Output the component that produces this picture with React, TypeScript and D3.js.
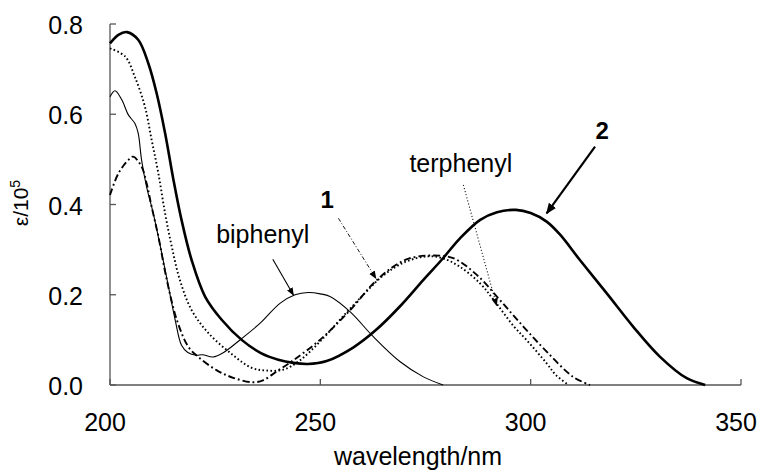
import React from "react";
import * as d3 from "d3";

// ---- data (wavelength nm, epsilon / 1e5) ----
const wl2 = [200, 202, 204, 206.7, 209.1, 211.1, 213.1, 215.1, 217.0, 219.4, 222.6, 226.6, 231.3, 236, 240, 243.6, 247, 251.5, 257.8, 263, 268.9, 274.5, 278.8, 283.2, 288, 292, 296.5, 300, 303.8, 307, 311.7, 318.1, 324.4, 330.7, 337.1, 341.5];
const eps2 = [0.757, 0.776, 0.782, 0.765, 0.713, 0.646, 0.558, 0.454, 0.366, 0.277, 0.196, 0.144, 0.100, 0.070, 0.056, 0.049, 0.0465, 0.053, 0.083, 0.12, 0.174, 0.233, 0.277, 0.325, 0.366, 0.383, 0.388, 0.381, 0.362, 0.333, 0.277, 0.203, 0.129, 0.063, 0.015, 0];

const wlBi = [200, 201.2, 202.8, 204.4, 205.9, 206.7, 207.5, 208.7, 210.3, 212.3, 213.9, 215.5, 217.0, 218.5, 220.5, 222, 224.5, 227, 231.3, 235.7, 240.4, 244, 247.1, 250, 252.3, 257.1, 262.6, 268.9, 274.5, 279.2];
const epsBi = [0.639, 0.652, 0.632, 0.598, 0.580, 0.558, 0.499, 0.439, 0.380, 0.292, 0.218, 0.144, 0.088, 0.072, 0.066, 0.067, 0.062, 0.072, 0.103, 0.137, 0.181, 0.200, 0.205, 0.202, 0.196, 0.162, 0.107, 0.052, 0.018, 0];

const wlTer = [200, 203.6, 205.9, 208.3, 209.9, 211.5, 213.1, 214.7, 216.6, 219.4, 223.4, 229, 233.7, 237.2, 241.2, 245.2, 250, 255, 260, 265, 270, 275.3, 279, 283.2, 288, 291.1, 296, 299, 303.8, 306, 309];
const epsTer = [0.746, 0.728, 0.683, 0.617, 0.543, 0.469, 0.380, 0.306, 0.233, 0.166, 0.115, 0.068, 0.038, 0.032, 0.034, 0.055, 0.097, 0.148, 0.198, 0.243, 0.272, 0.285, 0.281, 0.262, 0.225, 0.19, 0.13, 0.10, 0.048, 0.022, 0];

const wl1 = [200, 202, 204.4, 205.5, 207.5, 208.7, 209.9, 211.5, 213.5, 215.9, 218.6, 221, 225.3, 229.3, 234, 236.5, 239.6, 243.6, 249.9, 257.1, 262.6, 267.3, 271, 276, 281.6, 287.2, 292.7, 298.3, 303.8, 310.1, 314.1];
const eps1 = [0.421, 0.469, 0.499, 0.506, 0.484, 0.447, 0.395, 0.329, 0.233, 0.144, 0.085, 0.062, 0.033, 0.016, 0.006, 0.011, 0.030, 0.055, 0.100, 0.166, 0.225, 0.262, 0.280, 0.287, 0.281, 0.244, 0.188, 0.129, 0.074, 0.018, 0];

const xTicks = [200, 250, 300, 350];
const yTicks = [0, 0.2, 0.4, 0.6, 0.8];

// annotations in data units: label position and arrow from/to
const labelNames = ["biphenyl", "1", "terphenyl", "2"];
const labelPos = [[236.3, 0.3141], [251.6, 0.3916], [283.4, 0.4727], [317.0, 0.5445]];
const arrowFrom = [[238.7, 0.2786], [254.3, 0.3694], [284.0, 0.4432], [315.3, 0.5281]];
const arrowTo = [[243.6, 0.1994], [263.2, 0.2364], [291.9, 0.1762], [303.8, 0.3805]];

const W = 760, H = 470;
const x = d3.scaleLinear().domain([200, 350]).range([110, 741]);
const y = d3.scaleLinear().domain([0, 0.8]).range([385, 24]);

const line = d3
  .line<[number, number]>()
  .x((d) => x(d[0]))
  .y((d) => y(d[1]))
  .curve(d3.curveCatmullRom.alpha(0.5));

const zip = (a: number[], b: number[]) => a.map((v, i) => [v, b[i]] as [number, number]);

const font = "'Liberation Sans', Arial, Helvetica, sans-serif";
const axisColor = "#555";

export default function App() {
  const fmt = d3.format(".1f");
  const labelStyles = [
    { weight: "normal", size: 25 },
    { weight: "bold", size: 24 },
    { weight: "normal", size: 25 },
    { weight: "bold", size: 24 },
  ];
  const arrowStyles = [
    { w: 1.1, dash: "none", marker: "url(#ahThin)" },
    { w: 0.9, dash: "4,2,1,2", marker: "url(#ahThin)" },
    { w: 1.1, dash: "1,2.2", marker: "url(#ahThin)" },
    { w: 2.2, dash: "none", marker: "url(#ahThick)" },
  ];
  return (
    <svg
      width={W}
      height={H}
      style={{ position: "absolute", left: 0, top: 0, background: "#fff" }}
      fontFamily={font}
    >
      <defs>
        <marker id="ahThin" viewBox="0 0 10 10" refX="9" refY="5" markerWidth="8" markerHeight="8" markerUnits="userSpaceOnUse" orient="auto">
          <path d="M0,1 L10,5 L0,9 z" fill="#000" />
        </marker>
        <marker id="ahThick" viewBox="0 0 10 10" refX="9" refY="5" markerWidth="11" markerHeight="11" markerUnits="userSpaceOnUse" orient="auto">
          <path d="M0,1 L10,5 L0,9 z" fill="#000" />
        </marker>
      </defs>

      {/* axes */}
      <g stroke={axisColor} strokeWidth={1.3} fill="none">
        <line x1={x(200)} x2={x(350)} y1={y(0)} y2={y(0)} />
        <line x1={x(200)} x2={x(200)} y1={y(0)} y2={y(0.8)} />
        {xTicks.map((t) => (
          <line key={"xt" + t} x1={x(t)} x2={x(t)} y1={y(0)} y2={y(0) - 6} />
        ))}
        {yTicks.map((t) => (
          <line key={"yt" + t} x1={x(200)} x2={x(200) + 6} y1={y(t)} y2={y(t)} />
        ))}
      </g>
      {xTicks.map((t) => (
        <text key={"xl" + t} x={x(t) - 5} y={431} textAnchor="middle" fontSize={25} fill="#000">
          {t}
        </text>
      ))}
      {yTicks.map((t) => (
        <text key={"yl" + t} x={83} y={y(t) + 10} textAnchor="end" fontSize={25} fill="#000">
          {fmt(t)}
        </text>
      ))}
      <text x={418} y={465} textAnchor="middle" fontSize={25} fill="#000">
        wavelength/nm
      </text>
      <text transform="translate(28,203) rotate(-90)" textAnchor="middle" fontSize={21} fill="#000">
        ε/10<tspan fontSize={14} dy={-8}>5</tspan>
      </text>

      {/* curves */}
      <path d={line(zip(wlBi, epsBi)) || ""} fill="none" stroke="#000" strokeWidth={1.1} />
      <path d={line(zip(wlTer, epsTer)) || ""} fill="none" stroke="#000" strokeWidth={1.9} strokeDasharray="1.6,2.4" />
      <path d={line(zip(wl1, eps1)) || ""} fill="none" stroke="#000" strokeWidth={1.9} strokeDasharray="7,3,1.8,3" />
      <path d={line(zip(wl2, eps2)) || ""} fill="none" stroke="#000" strokeWidth={2.6} />

      {/* annotations */}
      {labelNames.map((n, i) => (
        <g key={n}>
          <text
            x={x(labelPos[i][0])}
            y={y(labelPos[i][1])}
            textAnchor="middle"
            fontSize={labelStyles[i].size}
            fontWeight={labelStyles[i].weight}
            fill="#000"
          >
            {n}
          </text>
          <line
            x1={x(arrowFrom[i][0])}
            y1={y(arrowFrom[i][1])}
            x2={x(arrowTo[i][0])}
            y2={y(arrowTo[i][1])}
            stroke="#000"
            strokeWidth={arrowStyles[i].w}
            strokeDasharray={arrowStyles[i].dash}
            markerEnd={arrowStyles[i].marker}
          />
        </g>
      ))}
    </svg>
  );
}
